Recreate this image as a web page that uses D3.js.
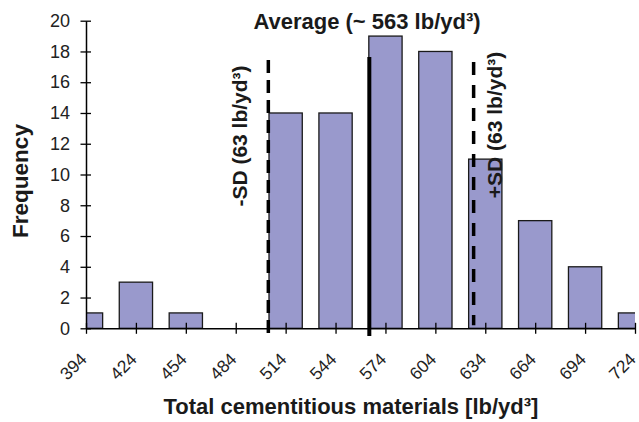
<!DOCTYPE html>
<html>
<head>
<meta charset="utf-8">
<script src="https://cdn.jsdelivr.net/npm/d3@7"></script>
<style>
  html, body { margin: 0; padding: 0; background: #fff; }
  svg { display: block; font-family: "Liberation Sans", Arial, Helvetica, sans-serif; }
</style>
</head>
<body>
<div id="chart"></div>
<script>
// ---- data ----
const categories = [394, 424, 454, 484, 514, 544, 574, 604, 634, 664, 694, 724];
const frequencies = [1, 3, 1, 0, 14, 14, 19, 18, 11, 7, 4, 1];
const yTicks = [0, 2, 4, 6, 8, 10, 12, 14, 16, 18, 20];
const binWidth = 20;
const refNames = ["-SD", "Average", "+SD"];
const refValues = [503.6, 564.3, 627];
const refTop = [17.45, 17.64, 17.32];
const refBottom = [-0.5, -0.5, 0.2];
const refLabels = ["-SD (63 lb/yd³)", "Average (~ 563 lb/yd³)", "+SD (63 lb/yd³)"];
const xTitle = "Total cementitious materials [lb/yd³]";
const yTitle = "Frequency";

// ---- layout ----
const W = 639, H = 422;
const plotL = 86, plotR = 635, plotT = 20.7, plotB = 328.3;

const svg = d3.select("#chart").append("svg").attr("width", W).attr("height", H);

const x = d3.scaleLinear().domain([394, 724]).range([plotL, plotR]);
const y = d3.scaleLinear().domain([0, 20]).range([plotB, plotT]);

svg.append("clipPath").attr("id", "plotclip")
  .append("rect").attr("x", plotL).attr("y", 0).attr("width", plotR - plotL).attr("height", H);

// bars
svg.append("g").attr("clip-path", "url(#plotclip)")
  .selectAll("rect").data(categories.map((c, i) => ({c, f: frequencies[i]})).filter(d => d.f > 0))
  .join("rect")
  .attr("x", d => x(d.c - binWidth / 2))
  .attr("width", d => x(d.c + binWidth / 2) - x(d.c - binWidth / 2))
  .attr("y", d => y(d.f))
  .attr("height", d => y(0) - y(d.f))
  .attr("fill", "#9999cc")
  .attr("stroke", "#1a1a1a")
  .attr("stroke-width", 1.3);

// y axis
const yAxis = svg.append("g").attr("transform", `translate(${plotL},0)`)
  .call(d3.axisLeft(y).tickValues(yTicks).tickSize(0).tickPadding(16).tickFormat(d3.format("d")));
yAxis.attr("font-size", null).attr("font-family", null);
yAxis.select(".domain").attr("stroke", "#000").attr("stroke-width", 1.5);
yAxis.selectAll(".tick text").style("font-size", "18px").attr("fill", "#222");
yAxis.selectAll(".tick").append("line").attr("x1", -5.5).attr("x2", 5).attr("stroke", "#000").attr("stroke-width", 1.3);

// x axis
const xAxis = svg.append("g").attr("transform", `translate(0,${plotB})`)
  .call(d3.axisBottom(x).tickValues(categories).tickSize(0).tickFormat(d3.format("d")));
xAxis.attr("font-size", null).attr("font-family", null);
xAxis.select(".domain").attr("stroke", "#000").attr("stroke-width", 1.5);
xAxis.selectAll(".tick").append("line").attr("y1", -5.5).attr("y2", 5.5).attr("stroke", "#000").attr("stroke-width", 1.3);
xAxis.selectAll(".tick text")
  .style("font-size", "17.5px").attr("fill", "#222")
  .attr("text-anchor", "end")
  .attr("y", 0).attr("dy", 0)
  .attr("transform", "translate(1.5,32) rotate(-45)");

// reference lines
const dashes = ["13,7", null, "13,10"];
const widths = [3.5, 4, 3.5];
refNames.forEach((n, i) => {
  svg.append("line")
    .attr("x1", x(refValues[i])).attr("x2", x(refValues[i]))
    .attr("y1", y(refTop[i])).attr("y2", y(refBottom[i]))
    .attr("stroke", "#000").attr("stroke-width", widths[i])
    .attr("stroke-dasharray", dashes[i]);
});

// reference labels
svg.append("text")
  .attr("x", 367).attr("y", 28.5)
  .attr("text-anchor", "middle").attr("font-size", 22).attr("font-weight", "bold").attr("fill", "#1a1a1a")
  .text(refLabels[1]);
svg.append("text")
  .attr("transform", "translate(247,136) rotate(-90)")
  .attr("text-anchor", "middle").attr("font-size", 21).attr("font-weight", "bold").attr("fill", "#1a1a1a")
  .text(refLabels[0]);
svg.append("text")
  .attr("transform", "translate(502,125) rotate(-90)")
  .attr("text-anchor", "middle").attr("font-size", 21).attr("font-weight", "bold").attr("fill", "#1a1a1a")
  .text(refLabels[2]);

// axis titles
svg.append("text")
  .attr("x", 351).attr("y", 414)
  .attr("text-anchor", "middle").attr("font-size", 22).attr("font-weight", "bold").attr("fill", "#1a1a1a")
  .text(xTitle);
svg.append("text")
  .attr("transform", "translate(28,181) rotate(-90)")
  .attr("text-anchor", "middle").attr("font-size", 22.5).attr("font-weight", "bold").attr("fill", "#1a1a1a")
  .text(yTitle);
</script>
</body>
</html>
